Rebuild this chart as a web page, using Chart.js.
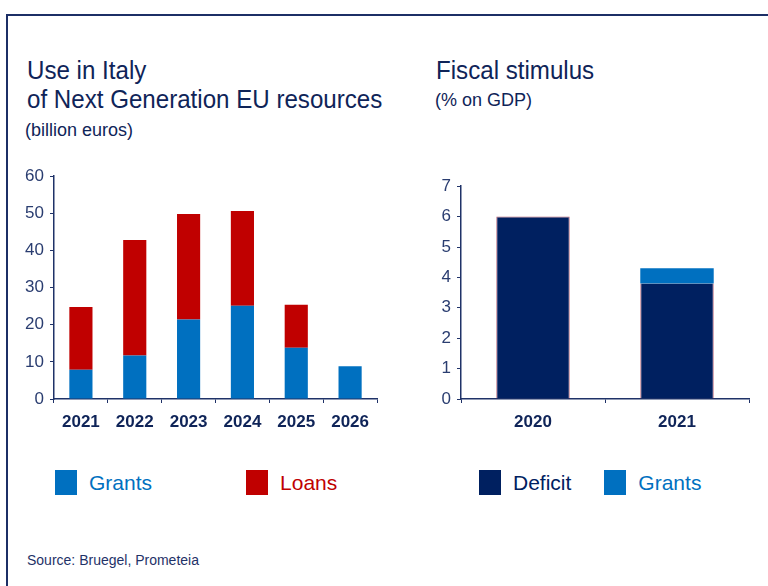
<!DOCTYPE html>
<html>
<head>
<meta charset="utf-8">
<script src="https://cdn.jsdelivr.net/npm/chart.js@4"></script>
<style>
  body { margin: 0; background: #fff; width: 768px; height: 586px; overflow: hidden; position: relative;
         font-family: "Liberation Sans", Arial, sans-serif; color: #0f2458; }
  .frame { position: absolute; left: 6px; top: 14px; right: -4px; bottom: -4px;
           border-top: 2px solid #1c2f66; border-left: 2px solid #1c2f66; }
  .title { position: absolute; font-size: 25px; line-height: 29px; color: #0f2458;
           transform: scaleX(0.965); transform-origin: left top; white-space: nowrap; }
  .sub { position: absolute; font-size: 18px; color: #0f2458; white-space: nowrap; }
  .box { position: absolute; }
  .legend { position: absolute; top: 470px; display: flex; align-items: center; font-size: 21px; }
  .legend span.sw { display: inline-block; width: 22px; height: 25px; margin-right: 12px; }
  .legend div { display: flex; align-items: center; }
  .source { position: absolute; left: 27px; top: 552px; font-size: 14px; color: #1f3268; }
</style>
</head>
<body>
<div class="frame"></div>
<div class="title" style="left:27px; top:56px;">Use in Italy<br>of Next Generation EU resources</div>
<div class="sub" style="left:25px; top:120px;">(billion euros)</div>
<div class="title" style="left:436px; top:56px;">Fiscal stimulus</div>
<div class="sub" style="left:435px; top:90px;">(% on GDP)</div>

<div class="box" style="left:20px; top:160px; width:358px; height:275px;"><canvas id="ngeu"></canvas></div>
<div class="box" style="left:420px; top:170px; width:331px; height:265px;"><canvas id="stimulus"></canvas></div>

<div class="legend" id="legendLeft" style="left:55px;"></div>
<div class="legend" id="legendRight" style="left:479px;"></div>
<div class="source">Source: Bruegel, Prometeia</div>

<script>
// NGEU resources by year (billion euros)
const years = ['2021', '2022', '2023', '2024', '2025', '2026'];
const grants = [7.9, 11.7, 21.4, 25.1, 13.8, 8.8];
const loans = [16.9, 31.1, 28.4, 25.5, 11.6, 0];

// Fiscal stimulus (% of GDP)
const stimulusYears = ['2020', '2021'];
const deficit = [6.0, 3.8];
const stimulusGrants = [0, 0.5];

const BLUE = '#0070c0';
const RED = '#c00000';
const NAVY = '#002060';
const INK = '#1f3268';

function axes(max, step, yWidth) {
    return {
        x: {
            stacked: true,
            grid: { drawOnChartArea: false, drawTicks: true, tickLength: 4, color: INK },
            border: { color: INK, width: 1.5 },
            ticks: { color: '#0f2458', padding: 9, font: { family: 'Liberation Sans', size: 17, weight: 'bold' } },
            afterFit: s => { s.height = 36; }
        },
        y: {
            stacked: true,
            min: 0,
            max: max,
            grid: { drawOnChartArea: false, drawTicks: true, tickLength: 4, color: INK },
            border: { color: INK, width: 1.5 },
            ticks: { stepSize: step, color: '#2a3d70', padding: 6, font: { family: 'Liberation Sans', size: 17 } },
            afterFit: s => { s.width = yWidth; }
        }
    };
}

const baseOptions = {
    responsive: true,
    maintainAspectRatio: false,
    animation: false,
    plugins: { legend: { display: false }, tooltip: { enabled: false } }
};

const ngeu = new Chart(document.getElementById('ngeu'), {
    type: 'bar',
    data: {
        labels: years,
        datasets: [
            { label: 'Grants', data: grants, backgroundColor: BLUE, barPercentage: 0.43, categoryPercentage: 1 },
            { label: 'Loans', data: loans, backgroundColor: RED, barPercentage: 0.43, categoryPercentage: 1 }
        ]
    },
    options: { ...baseOptions, layout: { padding: { top: 11, right: 0 } }, scales: axes(60, 10, 34) }
});

// thin dark-red edge on the deficit bars; no top edge where grants sit on top
const deficitEdge = ctx => ({
    left: 1, right: 1, bottom: 0,
    top: stimulusGrants[ctx.dataIndex] > 0 ? 0 : 1
});

const stimulus = new Chart(document.getElementById('stimulus'), {
    type: 'bar',
    data: {
        labels: stimulusYears,
        datasets: [
            { label: 'Deficit', data: deficit, backgroundColor: NAVY, borderColor: 'rgba(150, 20, 50, 0.7)',
              borderWidth: deficitEdge, borderSkipped: false, barPercentage: 0.51, categoryPercentage: 1 },
            { label: 'Grants', data: stimulusGrants, backgroundColor: BLUE, barPercentage: 0.51, categoryPercentage: 1 }
        ]
    },
    options: { ...baseOptions, layout: { padding: { top: 15, right: 2 } }, scales: axes(7, 1, 41) }
});

// legends built from the dataset labels and colours
function buildLegend(chart, el, gap) {
    chart.data.datasets.forEach(ds => {
        const item = document.createElement('div');
        item.style.marginRight = gap + 'px';
        item.style.color = ds.backgroundColor;
        const sw = document.createElement('span');
        sw.className = 'sw';
        sw.style.background = ds.backgroundColor;
        item.appendChild(sw);
        item.appendChild(document.createTextNode(ds.label));
        el.appendChild(item);
    });
}
buildLegend(ngeu, document.getElementById('legendLeft'), 94);
buildLegend(stimulus, document.getElementById('legendRight'), 33);
</script>
</body>
</html>
